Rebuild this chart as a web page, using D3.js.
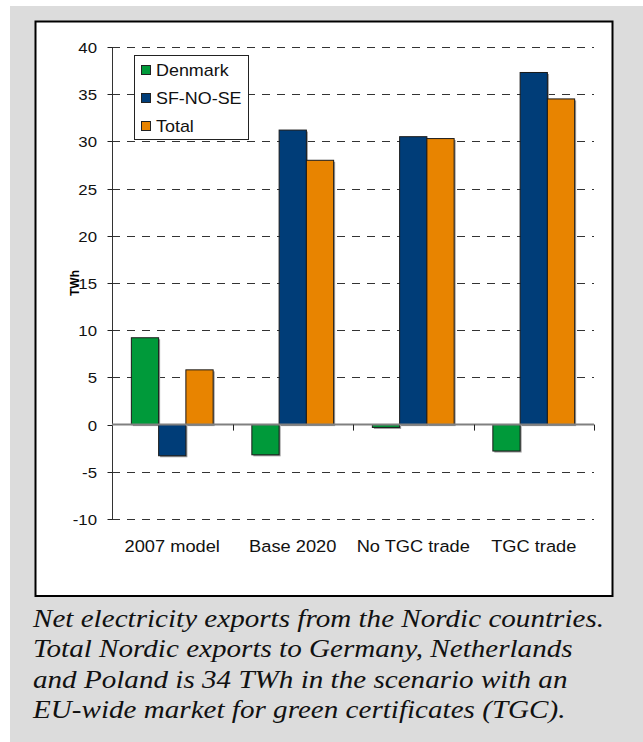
<!DOCTYPE html>
<html>
<head>
<meta charset="utf-8">
<script src="https://cdn.jsdelivr.net/npm/d3@7"></script>
<style>
  html, body { margin: 0; padding: 0; background: #fff; }
  svg { display: block; }
</style>
</head>
<body>
<script>
// Net electricity exports (TWh) by scenario
const categories = ["2007 model", "Base 2020", "No TGC trade", "TGC trade"];
const seriesNames = ["Denmark", "SF-NO-SE", "Total"];
const denmark = [9.2, -3.2, -0.3, -2.8];
const sfNoSe  = [-3.3, 31.2, 30.5, 37.3];
const total   = [5.8, 28.0, 30.3, 34.5];
const yTicks  = [-10, -5, 0, 5, 10, 15, 20, 25, 30, 35, 40];
const seriesColors = ["#009a3a", "#003d78", "#e88400"];
const captionLines = [
  "Net electricity exports from the Nordic countries.",
  "Total Nordic exports to Germany, Netherlands",
  "and Poland is 34 TWh in the scenario with an",
  "EU-wide market for green certificates (TGC)."
];

const seriesValues = [denmark, sfNoSe, total];

const W = 643, H = 742;
const STRETCH = 1.12;   // type is set slightly wide throughout the figure
const sans = "'Liberation Sans', Arial, sans-serif";
const serif = "'Liberation Serif', 'Times New Roman', serif";

const svg = d3.select("body").append("svg").attr("width", W).attr("height", H);

// place a horizontally widened text at (x, y)
function label(parent, x, y, str, anchor, size, extra) {
  const t = parent.append("text")
    .attr("transform", `translate(${x},${y}) scale(${STRETCH},1)`)
    .attr("text-anchor", anchor).attr("font-family", sans)
    .attr("font-size", size).attr("fill", "#111").text(str);
  if (extra) extra(t);
  return t;
}

// grey page panel and white chart frame
svg.append("rect").attr("x", 10).attr("y", 6).attr("width", W - 10).attr("height", H - 6).attr("fill", "#dcdcdc");
svg.append("rect").attr("x", 35.5).attr("y", 21.5).attr("width", 577).attr("height", 574.5)
  .attr("fill", "#fff").attr("stroke", "#000").attr("stroke-width", 2);

const plot = { left: 112, right: 594, top: 47, bottom: 519 };
const y = d3.scaleLinear().domain([-10, 40]).range([plot.bottom, plot.top]);
const x0 = d3.scaleBand().domain(categories).range([plot.left, plot.right]).padding(0);
const x1 = d3.scaleBand().domain(seriesNames).range([0, x0.bandwidth()]).paddingInner(0).paddingOuter(0.71);
const py = d => Math.round(y(d)) + 0.5;

// dashed gridlines
svg.append("g").selectAll("line").data(yTicks.filter(d => d !== 0)).join("line")
  .attr("x1", plot.left).attr("x2", plot.right)
  .attr("y1", py).attr("y2", py)
  .attr("stroke", "#333").attr("stroke-width", 1).attr("stroke-dasharray", "8,7");

// y axis: line and tick marks from d3.axisLeft, labels set separately
const yAxis = d3.axisLeft(y).tickValues(yTicks).tickSize(5).tickFormat("");
const gy = svg.append("g").attr("transform", `translate(${plot.left + 0.5},0)`).call(yAxis);
gy.select(".domain").attr("stroke", "#333").attr("d", `M0,${y(-10)}V${y(40)}`);
gy.selectAll(".tick line").attr("stroke", "#222");
gy.selectAll(".tick").attr("transform", d => `translate(0,${py(d)})`);
const yl = svg.append("g");
yTicks.forEach(v => label(yl, 97, py(v) + 5.5, String(v), "end", 15));

// bars with a soft shadow on the right
const groups = svg.append("g").selectAll("g").data(categories).join("g")
  .attr("transform", c => `translate(${x0(c)},0)`);
const barData = (c, i) => seriesNames.map((s, k) => ({ s, k, v: seriesValues[k][i] }));
groups.selectAll("rect.shadow").data(barData).join("rect").attr("class", "shadow")
  .attr("x", d => x1(d.s) + 1.5).attr("y", d => Math.min(y(d.v), y(0)) + 1.5)
  .attr("width", x1.bandwidth()).attr("height", d => Math.abs(y(d.v) - y(0)))
  .attr("fill", "#9a9a9a");
groups.selectAll("rect.bar").data(barData).join("rect").attr("class", "bar")
  .attr("x", d => x1(d.s)).attr("y", d => Math.min(y(d.v), y(0)))
  .attr("width", x1.bandwidth()).attr("height", d => Math.abs(y(d.v) - y(0)))
  .attr("fill", d => seriesColors[d.k]).attr("stroke", "#1a1a1a").attr("stroke-width", 1);

// category axis along zero
svg.append("line").attr("x1", plot.left).attr("x2", plot.right).attr("y1", y(0)).attr("y2", y(0))
  .attr("stroke", "#808080").attr("stroke-width", 2);
const bounds = categories.slice(1).map(c => x0(c)).concat([plot.right]);
svg.append("g").selectAll("line").data(bounds).join("line")
  .attr("x1", d => Math.round(d) + 0.5).attr("x2", d => Math.round(d) + 0.5)
  .attr("y1", y(0)).attr("y2", y(0) + 6).attr("stroke", "#222");
const cl = svg.append("g");
categories.forEach(c => label(cl, x0(c) + x0.bandwidth() / 2, 552, c, "middle", 16.3));

// y axis title
svg.append("text").attr("transform", "translate(79,283) rotate(-90)")
  .attr("text-anchor", "middle").attr("font-family", sans).attr("font-size", 12)
  .attr("font-weight", "bold").text("TWh");

// legend
const lg = svg.append("g");
lg.append("rect").attr("x", 134.5).attr("y", 55.5).attr("width", 114).attr("height", 84)
  .attr("fill", "#fff").attr("stroke", "#222").attr("stroke-width", 1);
seriesNames.forEach((name, i) => {
  const cy = 70 + i * 28;
  lg.append("rect").attr("x", 141.5).attr("y", cy - 4.5).attr("width", 9).attr("height", 9)
    .attr("fill", seriesColors[i]).attr("stroke", "#222");
  label(lg, 156, cy + 6, name, "start", 16);
});

// caption
const cap = svg.append("g");
captionLines.forEach((line, i) => {
  cap.append("text")
    .attr("transform", `translate(33,${627 + i * 30.3}) scale(${STRETCH},1)`)
    .attr("font-family", serif).attr("font-style", "italic")
    .attr("font-size", 26).attr("fill", "#111").text(line);
});
</script>
</body>
</html>
